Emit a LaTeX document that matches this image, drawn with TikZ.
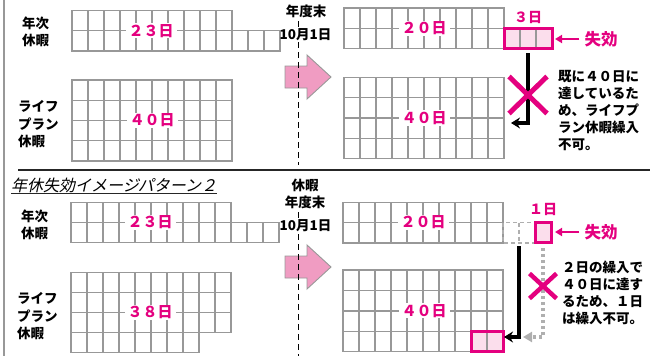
\documentclass[tikz,border=0pt]{standalone}
\usepackage{fontspec}
\setmainfont{Noto Sans CJK JP}
\newfontfamily\jpslant{Noto Sans CJK JP}[FakeSlant=0.22]
\usetikzlibrary{arrows.meta}
\definecolor{mag}{RGB}{228,0,127}
\definecolor{pinklight}{RGB}{251,222,236}
\definecolor{arrowpink}{RGB}{240,156,194}
\definecolor{gridgray}{RGB}{152,152,152}
\definecolor{lightgray2}{RGB}{175,175,175}
\newcommand\cellrow[4]{\foreach \i in {1,...,#3}{\draw[cellline] ({#1+16*(\i-1)},#2) rectangle ++(16,#4);}}
\begin{document}
\begin{tikzpicture}[x=1pt,y=-1pt,
  cellline/.style={draw=gridgray, line width=1.4pt},
  magborder/.style={draw=mag, line width=3pt},
  daylabel/.style={text=mag, font=\bfseries\fontsize{15}{15}\selectfont, fill=white, inner xsep=3pt, inner ysep=1pt},
  smallmag/.style={text=mag, font=\bfseries\fontsize{14}{14}\selectfont, inner sep=0pt},
  sidelabel/.style={font=\bfseries\fontsize{13.5}{17.5}\selectfont, align=left, anchor=west, inner sep=0pt},
  note/.style={font=\bfseries\fontsize{13.5}{17.2}\selectfont, align=left, anchor=west, inner sep=0pt},
  datelabel/.style={font=\bfseries\fontsize{13.5}{17}\selectfont, inner sep=0pt},
  blackarrow/.style={line width=3.2pt, -{Stealth[length=9pt,width=11pt]}},
  grayarrow/.style={draw=lightgray2, line width=3.2pt, dash pattern=on 3pt off 3pt, -{Triangle[length=9pt,width=10pt]}},
  magarrow/.style={draw=mag, line width=2.2pt, -{Triangle[length=7pt,width=8pt]}},
  xmark/.style={draw=mag, line width=5pt},
  pinkarrow/.style={fill=arrowpink, draw=gridgray, line width=0.9pt},
  dashline/.style={line width=1.8pt, dash pattern=on 6pt off 4pt},
  ghostcell/.style={draw=lightgray2, line width=1.4pt, dash pattern=on 4pt off 3pt},
  shikko/.style={text=mag, font=\bfseries\fontsize{16.5}{16.5}\selectfont, inner sep=0pt}
]
\useasboundingbox (0,0) rectangle (652,356);

% frame lines
\draw[gridgray, line width=1.8pt] (4,0) -- (4,356);
\draw[black!85, line width=1.6pt] (18,170) -- (650,170);

% ================= TOP SECTION =================
\node[sidelabel] (nenji1) at (22,32) {年次\\休暇};
\node[sidelabel] (life1) at (18,124.5) {ライフ\\プラン\\休暇};

\cellrow{72}{10.5}{10}{20.25}
\cellrow{72}{30.75}{13}{20.25}
\node[daylabel] (d23a) at (151,30.75) {２３日};

\cellrow{72}{80}{10}{20.25}
\cellrow{72}{100.25}{10}{20.25}
\cellrow{72}{120.5}{10}{20.25}
\cellrow{72}{140.75}{10}{20.25}
\node[daylabel] (d40a) at (152,120.5) {４０日};

\draw[pinkarrow] (285,66) -- (307,66) -- (307,55) -- (331,77) -- (307,99) -- (307,88) -- (285,88) -- cycle;

\node[datelabel] (ye1) at (306,11) {年度末};
\node[datelabel] (oct1) at (305.5,35) {10月1日};
\coordinate (dl1a) at (298.5,21);
\coordinate (dl1b) at (298.5,29);
\coordinate (dl1c) at (298.5,42);
\coordinate (dl1d) at (298.5,165);
\draw[dashline] (dl1a) -- (dl1b);
\draw[dashline] (dl1c) -- (dl1d);

\cellrow{344}{8}{10}{20.25}
\cellrow{344}{28.25}{10}{20.25}
\node[daylabel] (d20a) at (424,28.25) {２０日};

\fill[pinklight] (504,28.25) rectangle (552,48.5);
\draw[cellline] (520,28.25) -- (520,48.5);
\draw[cellline] (536,28.25) -- (536,48.5);
\draw[magborder] (504,28.25) rectangle (552,48.5);
\node[smallmag] (d3) at (528,17.5) {３日};
\node[shikko] (sk1) at (601,39) {失効};
\coordinate (sk1tip) at (555,39);
\draw[magarrow] ([xshift=-5pt]sk1.west) -- (sk1tip);

\cellrow{344}{77.5}{10}{20.25}
\cellrow{344}{97.75}{10}{20.25}
\cellrow{344}{118}{10}{20.25}
\cellrow{344}{138.25}{10}{20.25}
\node[daylabel] (d40b) at (424,118) {４０日};

\coordinate (a1s) at (528,53);
\coordinate (a1e) at (511,123);
\draw[blackarrow] (a1s) |- (a1e);
\coordinate (x1) at (528,95);
\draw[xmark] ([shift={(-19,-18.5)}]x1) -- ([shift={(19,18.5)}]x1);
\draw[xmark] ([shift={(19,-18.5)}]x1) -- ([shift={(-19,18.5)}]x1);

\node[note] (note1) at (558,110.5) {既に４０日に\\達しているた\\め、ライフプ\\ラン休暇繰入\\不可。};

% ================= BOTTOM SECTION =================
\node[anchor=west, inner sep=0pt, font=\jpslant\fontsize{16}{16}\selectfont] (title) at (11,185) {年休失効イメージパターン２};
\draw[black!85, line width=1pt] ([yshift=-2.5pt]title.base west) -- ([yshift=-2.5pt]title.base east);

\node[sidelabel] (nenji2) at (21,225) {年次\\休暇};
\node[sidelabel] (life2) at (17,316.5) {ライフ\\プラン\\休暇};

\cellrow{71}{202.2}{10}{20.25}
\cellrow{71}{222.45}{13}{20.25}
\node[daylabel] (d23b) at (150,222.45) {２３日};

\cellrow{71}{272.5}{10}{20}
\cellrow{71}{292.5}{10}{20}
\cellrow{71}{312.5}{10}{20}
\cellrow{71}{332.5}{8}{20}
\node[daylabel] (d38) at (150,312.5) {３８日};

\draw[pinkarrow] (285,256) -- (307,256) -- (307,245) -- (331,267) -- (307,289) -- (307,278) -- (285,278) -- cycle;

\node[datelabel, align=center] (ye2) at (305,194) {休暇\\年度末};
\node[datelabel] (oct2) at (305.5,226) {10月1日};
\coordinate (dl2a) at (298.5,212);
\coordinate (dl2b) at (298.5,219);
\coordinate (dl2c) at (298.5,234);
\coordinate (dl2d) at (298.5,356);
\draw[dashline] (dl2a) -- (dl2b);
\draw[dashline] (dl2c) -- (dl2d);

\cellrow{343}{202.3}{10}{20.25}
\cellrow{343}{222.55}{10}{20.25}
\node[daylabel] (d20b) at (423,222.55) {２０日};

\draw[ghostcell] (503,222.55) rectangle (535,242.8);
\draw[ghostcell] (519,222.55) -- (519,242.8);

\fill[pinklight] (535,222.55) rectangle (551.5,242.8);
\draw[magborder] (535,222.55) rectangle (551.5,242.8);
\node[smallmag] (d1) at (543,209.5) {１日};
\node[shikko] (sk2) at (601,232) {失効};
\coordinate (sk2tip) at (555,232);
\draw[magarrow] ([xshift=-5pt]sk2.west) -- (sk2tip);

\cellrow{343}{270}{10}{20.4}
\cellrow{343}{290.4}{10}{20.4}
\cellrow{343}{310.8}{10}{20.4}
\cellrow{343}{331.2}{10}{20.4}
\node[daylabel] (d40c) at (424,310.8) {４０日};

\fill[pinklight] (471,331.2) rectangle (503,351.6);
\draw[cellline] (487,331.2) -- (487,351.6);
\draw[magborder] (471,331.2) rectangle (503,351.6);

\coordinate (a2s) at (519,246);
\coordinate (a2e) at (504,337);
\draw[blackarrow] (a2s) |- (a2e);
\coordinate (a3s) at (543,248);
\coordinate (a3e) at (523,337);
\draw[grayarrow] (a3s) |- (a3e);

\coordinate (x2) at (543,286);
\draw[xmark, line width=4.5pt] ([shift={(-13.5,-12.5)}]x2) -- ([shift={(13.5,12.5)}]x2);
\draw[xmark, line width=4.5pt] ([shift={(13.5,-12.5)}]x2) -- ([shift={(-13.5,12.5)}]x2);

\node[note] (note2) at (562,292.8) {２日の繰入で\\４０日に達す\\るため、１日\\は繰入不可。};
\end{tikzpicture}
\end{document}
